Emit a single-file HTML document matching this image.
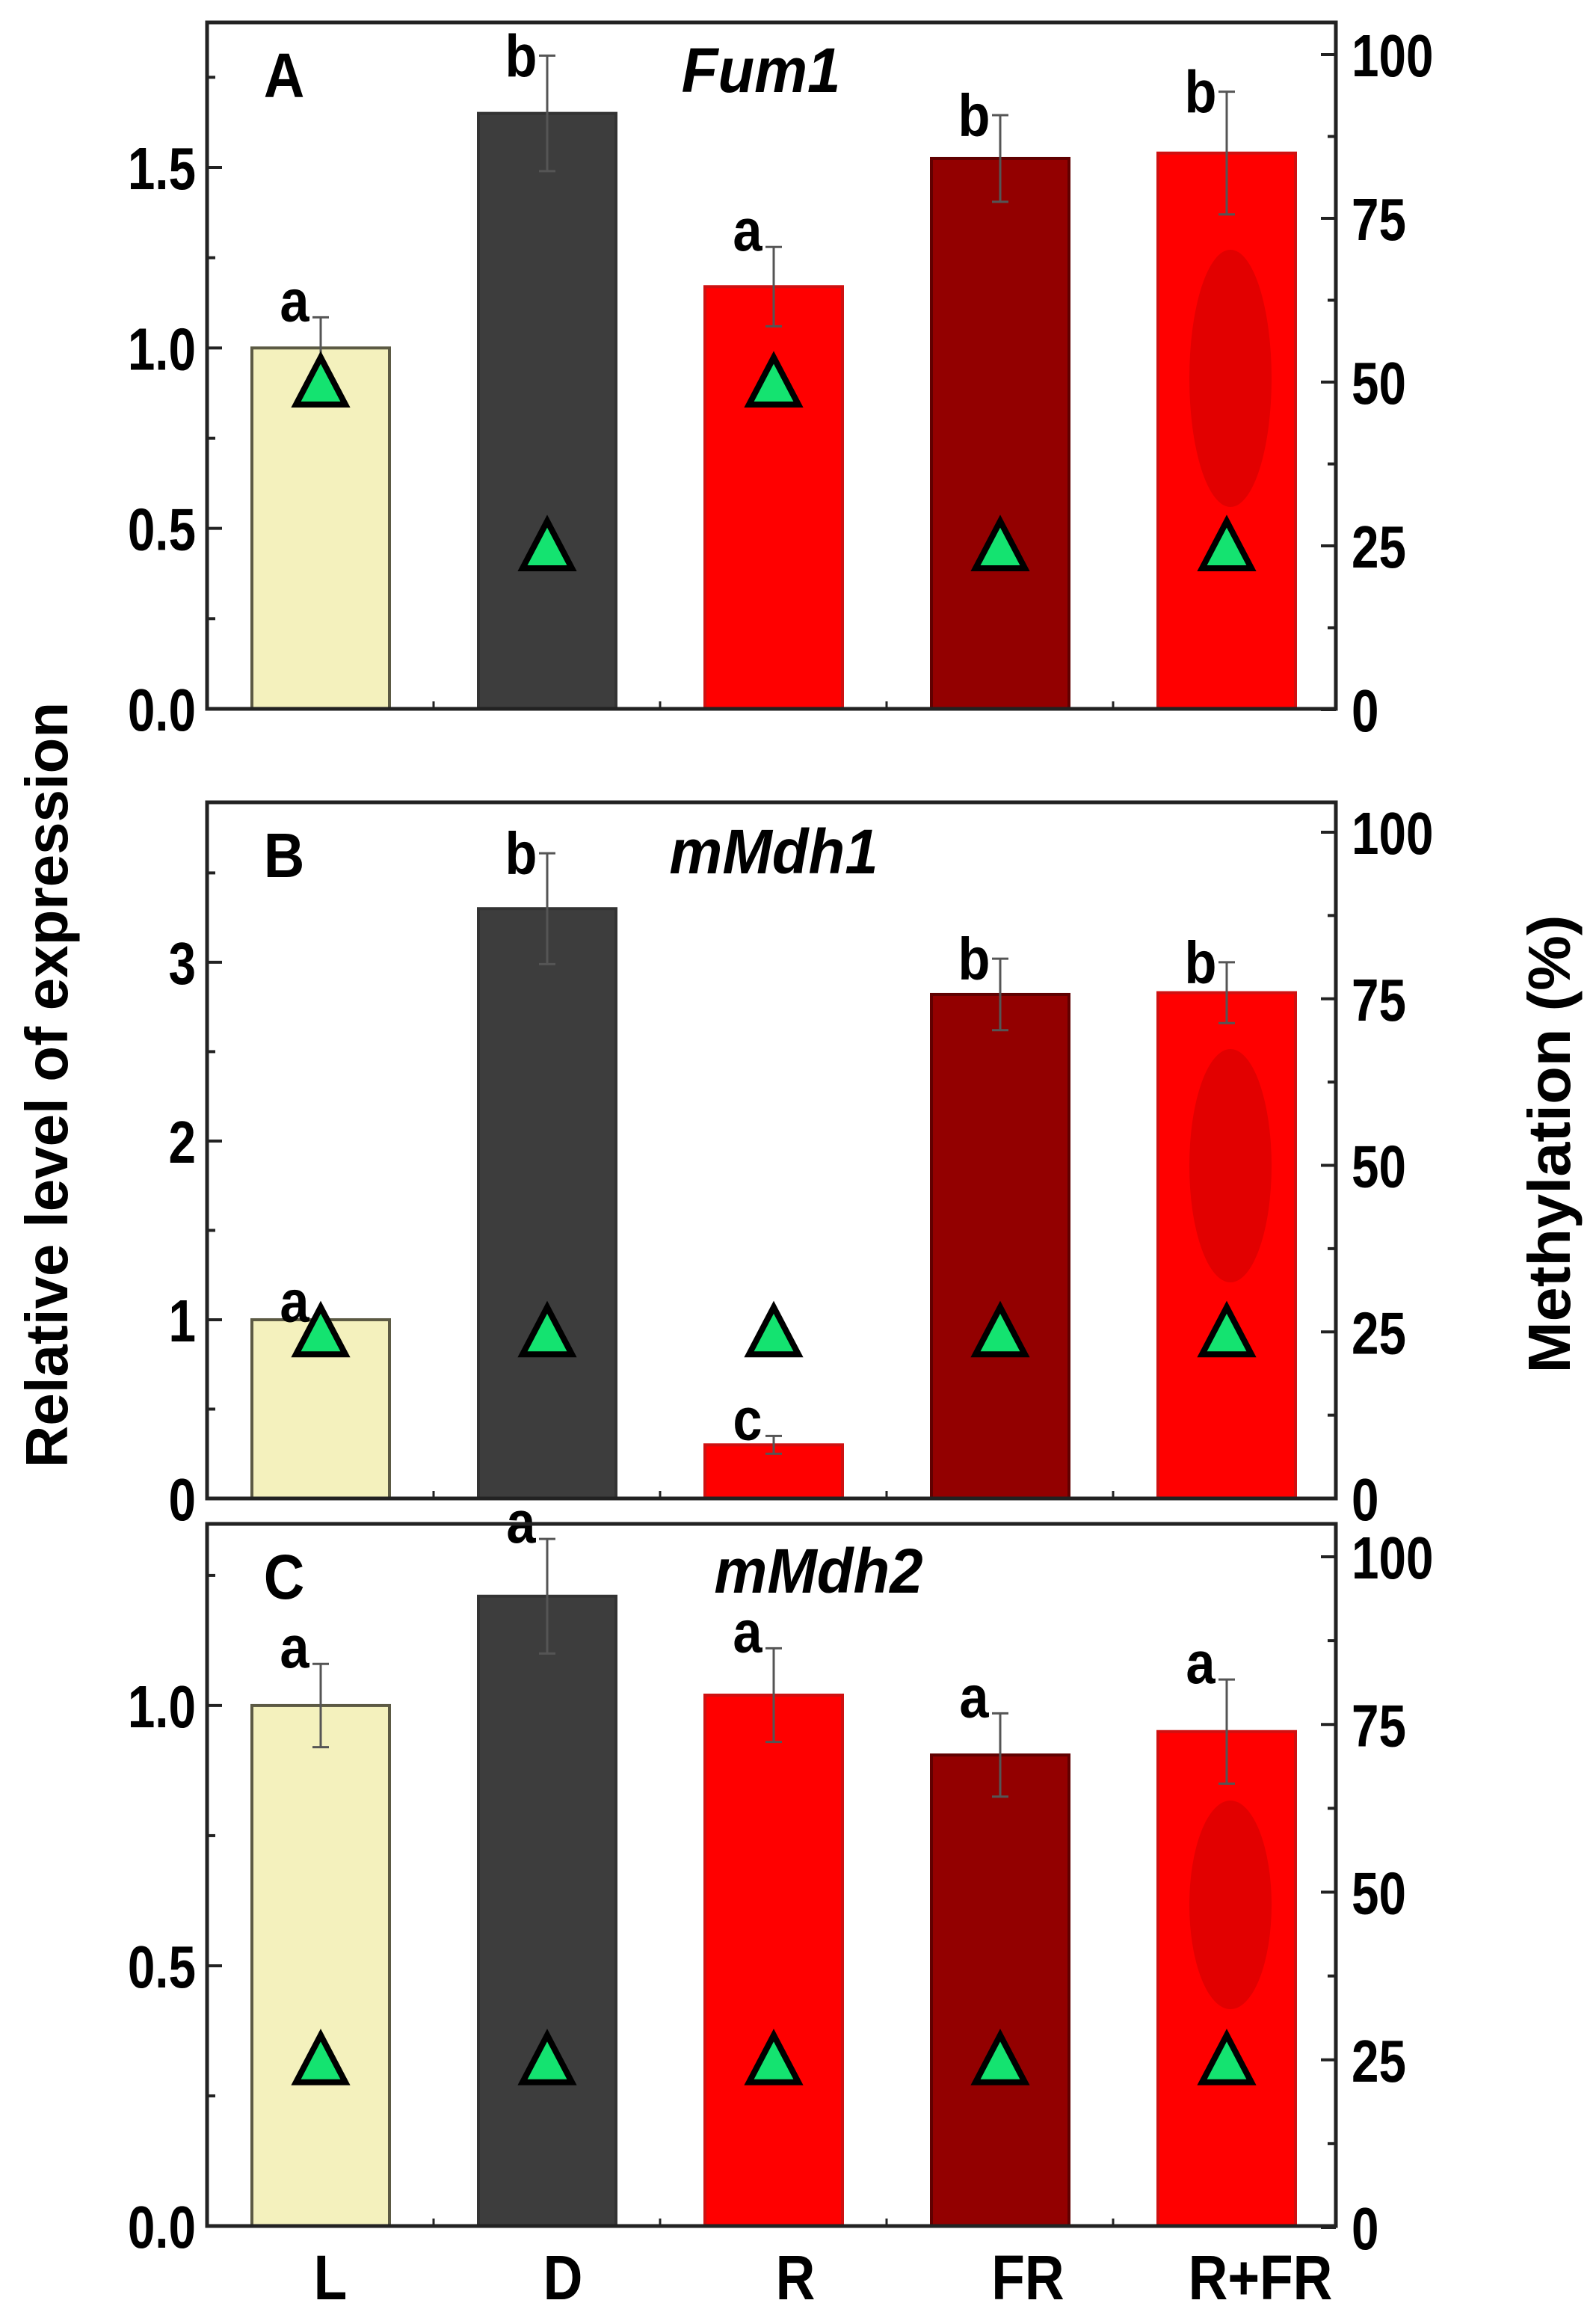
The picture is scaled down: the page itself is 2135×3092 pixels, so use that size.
<!DOCTYPE html>
<html><head><meta charset="utf-8"><style>
html,body{margin:0;padding:0;background:#fff;}
svg{display:block;}
</style></head><body>
<svg id="fig" width="2135" height="3092" viewBox="0 0 2135 3092" xmlns="http://www.w3.org/2000/svg"></svg>
<script>
// ---------- data ----------
const categories = ["L", "D", "R", "FR", "R+FR"];
const fum1Expr = [1.00, 1.65, 1.17, 1.525, 1.54];
const fum1Err = [0.085, 0.16, 0.11, 0.12, 0.17];
const fum1Meth = [50, 25, 50, 25, 25];
const fum1Letters = ["a", "b", "a", "b", "b"];
const mdh1Expr = [1.00, 3.30, 0.30, 2.82, 2.83];
const mdh1Err = [0.01, 0.31, 0.05, 0.20, 0.17];
const mdh1Meth = [25, 25, 25, 25, 25];
const mdh1Letters = ["a", "b", "c", "b", "b"];
const mdh2Expr = [1.00, 1.21, 1.02, 0.905, 0.95];
const mdh2Err = [0.08, 0.11, 0.09, 0.08, 0.10];
const mdh2Meth = [25, 25, 25, 25, 25];
const mdh2Letters = ["a", "a", "a", "a", "a"];
const fum1Ticks = [0, 0.5, 1.0, 1.5];
const fum1TickLabels = ["0.0", "0.5", "1.0", "1.5"];
const mdh1Ticks = [0, 1, 2, 3];
const mdh1TickLabels = ["0", "1", "2", "3"];
const mdh2Ticks = [0, 0.5, 1.0];
const mdh2TickLabels = ["0.0", "0.5", "1.0"];
const methTicks = [0, 25, 50, 75, 100];
const methTickLabels = ["0", "25", "50", "75", "100"];

// ---------- drawing ----------
const NS = "http://www.w3.org/2000/svg";
const svg = document.getElementById("fig");
const barColors = ["#f4f1bd", "#3d3d3d", "#ff0000", "#930000", "#ff0000"];
const barStroke = ["#5c5a44", "#333333", "#d01010", "#600000", "#d01010"];
const FL = 277, FR_ = 1787;
const xc = i => FL + 152 + i * 303;
const BW = 184;

function mk(tag, attrs, parent) {
  const e = document.createElementNS(NS, tag);
  for (const k in attrs) e.setAttribute(k, attrs[k]);
  (parent || svg).appendChild(e);
  return e;
}
function txt(x, y, s, size, sx, anchor, opts, parent) {
  const g = mk("g", {transform: `translate(${x},${y}) scale(${sx},1)` + (opts && opts.rot ? ` rotate(${opts.rot})` : "")}, parent);
  const t = mk("text", {x: 0, y: 0, "font-family": '"Liberation Sans", Arial, sans-serif', "font-size": size,
    "font-weight": "bold", "text-anchor": anchor, fill: "#000"}, g);
  if (opts && opts.italic) t.setAttribute("font-style", "italic");
  if (opts && opts.len) { t.setAttribute("textLength", opts.len); t.setAttribute("lengthAdjust", "spacingAndGlyphs"); }
  t.textContent = s;
  return t;
}

const panels = [
  {id: "a", label: "A", title: "Fum1", top: 30, bottom: 948, max: 1.902, m0: 949, m100: 73,
   expr: fum1Expr, err: fum1Err, meth: fum1Meth, letters: fum1Letters, ticks: fum1Ticks, tickLabels: fum1TickLabels, minor: 0.25,
   titleX: 1018, titleY: 123, ell: [334, 678]},
  {id: "b", label: "B", title: "mMdh1", top: 1073, bottom: 2004, max: 3.895, m0: 2004, m100: 1113,
   expr: mdh1Expr, err: mdh1Err, meth: mdh1Meth, letters: mdh1Letters, ticks: mdh1Ticks, tickLabels: mdh1TickLabels, minor: 0.5,
   titleX: 1035, titleY: 1168, ell: [1403, 1715]},
  {id: "c", label: "C", title: "mMdh2", top: 2038, bottom: 2977, max: 1.349, m0: 2979, m100: 2082,
   expr: mdh2Expr, err: mdh2Err, meth: mdh2Meth, letters: mdh2Letters, ticks: mdh2Ticks, tickLabels: mdh2TickLabels, minor: 0.25,
   titleX: 1095, titleY: 2130, ell: [2408, 2687]}
];
const letterOffset = {a: 5, b: 28, c: 5};

panels.forEach(p => {
  const g = mk("g", {});
  
  
  const y = v => p.bottom - v / p.max * (p.bottom - p.top);
  const ym = v => p.m0 - v / 100 * (p.m0 - p.m100);

  p.expr.forEach((v, i) => {
    const r = mk("rect", {x: xc(i) - BW / 2, y: y(v), width: BW, height: p.bottom - y(v),
      fill: barColors[i], stroke: barStroke[i], "stroke-width": 4}, g);
    
    
  });
  const el = mk("ellipse", {cx: xc(4) + 5, cy: (p.ell[0] + p.ell[1]) / 2, rx: 55, ry: (p.ell[1] - p.ell[0]) / 2, fill: "#e20000"}, g);
  
  

  p.expr.forEach((v, i) => {
    const e = mk("g", {stroke: "#555", "stroke-width": 3}, g);
    
    
    mk("line", {x1: xc(i), x2: xc(i), y1: y(v + p.err[i]), y2: y(v - p.err[i])}, e);
    mk("line", {x1: xc(i) - 11, x2: xc(i) + 11, y1: y(v + p.err[i]), y2: y(v + p.err[i])}, e);
    mk("line", {x1: xc(i) - 11, x2: xc(i) + 11, y1: y(v - p.err[i]), y2: y(v - p.err[i])}, e);
    const L = p.letters[i];
    const t = txt(xc(i) - 35, y(v + p.err[i]) + letterOffset[L], L, 80, 0.88, "middle", null, g);
    
    
  });

  p.meth.forEach((m, i) => {
    const cy = ym(m), cx = xc(i);
    const tri = mk("polygon", {points: `${cx},${cy - 33} ${cx - 33},${cy + 30} ${cx + 33},${cy + 30}`,
      fill: "#14e370", stroke: "#000", "stroke-width": 8, "stroke-linejoin": "miter"}, g);
    
    
  });

  const fr = mk("rect", {x: FL, y: p.top, width: FR_ - FL, height: p.bottom - p.top, fill: "none", stroke: "#222", "stroke-width": 5}, g);
  
  

  for (let v = 0; v <= p.max + 1e-9; v += p.minor) {
    const major = p.ticks.some(t => Math.abs(t - v) < 1e-6);
    mk("line", {x1: FL, x2: FL + (major ? 20 : 11), y1: y(v), y2: y(v), stroke: "#222", "stroke-width": 4}, g);
  }
  p.ticks.forEach((t, k) => {
    const tl = txt(262, y(t) + 29, p.tickLabels[k], 80, 0.82, "end", null, g);
    
    
  });
  for (let v = 0; v <= 100; v += 12.5) {
    const major = v % 25 === 0;
    mk("line", {x1: FR_, x2: FR_ - (major ? 20 : 11), y1: ym(v), y2: ym(v), stroke: "#222", "stroke-width": 4}, g);
  }
  methTicks.forEach((t, k) => {
    const tl = txt(1808, ym(t) + 29, methTickLabels[k], 80, 0.82, "start", null, g);
    
    
  });
  for (let i = 0; i < 4; i++) {
    mk("line", {x1: xc(i) + 151, x2: xc(i) + 151, y1: p.bottom, y2: p.bottom - 10, stroke: "#222", "stroke-width": 3}, g);
  }

  const pl = txt(380, p.top + 100, p.label, 84, 0.9, "middle", null, g);
  
  
  const ti = txt(p.titleX, p.titleY, p.title, 84, 0.95, "middle", {italic: true}, g);
  
  
});

categories.forEach((c, i) => {
  const t = txt(xc(i) + 13 + i * 8, 3075, c, 84, 0.87, "middle");
  
  
});

const yt = txt(90, 1451, "Relative level of expression", 80, 1, "middle", {rot: -90, len: 1024});


const rt = txt(2100, 1530, "Methylation (%)", 80, 1, "middle", {rot: -90, len: 613});


</script>
</body></html>
